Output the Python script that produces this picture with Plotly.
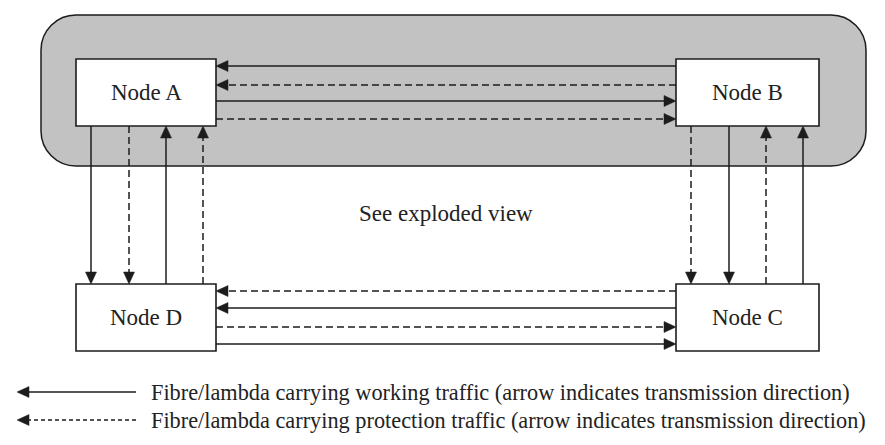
import plotly.graph_objects as go

# ---------------- data ----------------
node_names = ["Node A", "Node B", "Node C", "Node D"]
center_label = "See exploded view"
# links per channel: (source, destination, kind)
links_AB = [("Node B", "Node A", "working"), ("Node B", "Node A", "protection"),
            ("Node A", "Node B", "working"), ("Node A", "Node B", "protection")]
links_DC = [("Node C", "Node D", "protection"), ("Node C", "Node D", "working"),
            ("Node D", "Node C", "protection"), ("Node D", "Node C", "working")]
links_AD = [("Node A", "Node D", "working"), ("Node A", "Node D", "protection"),
            ("Node D", "Node A", "working"), ("Node D", "Node A", "protection")]
links_BC = [("Node B", "Node C", "protection"), ("Node B", "Node C", "working"),
            ("Node C", "Node B", "protection"), ("Node C", "Node B", "working")]
legend_kinds = ["working", "protection"]
legend_texts = ["Fibre/lambda carrying working traffic (arrow indicates transmission direction)",
                "Fibre/lambda carrying protection traffic (arrow indicates transmission direction)"]

# ---------------- geometry / style ----------------
W, H = 885, 445
boxes = {
    "Node A": (68, 51, 208, 118),
    "Node B": (668, 51, 811, 118),
    "Node C": (668, 276, 811, 343),
    "Node D": (68, 276, 208, 343),
}
h_offsets_AB = [7, 26, 42, 60]
h_offsets_DC = [7, 24, 43, 60]
v_offsets = [15, 53, 90, 127]
group_box = (33, 7, 858, 158, 35)
INK = "#1c1c1c"
LW = 1.5
DASH = {"working": "solid", "protection": "7px,4px"}
FONT = "Liberation Serif, Times New Roman, serif"
FS = 23
FS_LEG = 22.3
AL, AW = 12, 5.5  # arrowhead length, half width

shapes = []
annotations = []

# grey rounded group area
x0, y0, x1, y1, r = group_box
k = 0.5523 * r
path = (f"M {x0+r},{y0} L {x1-r},{y0} C {x1-r+k},{y0} {x1},{y0+r-k} {x1},{y0+r} "
        f"L {x1},{y1-r} C {x1},{y1-r+k} {x1-r+k},{y1} {x1-r},{y1} "
        f"L {x0+r},{y1} C {x0+r-k},{y1} {x0},{y1-r+k} {x0},{y1-r} "
        f"L {x0},{y0+r} C {x0},{y0+r-k} {x0+r-k},{y0} {x0+r},{y0} Z")
shapes.append(dict(type="path", path=path, xref="x", yref="y",
                   fillcolor="#c2c2c2", line=dict(color=INK, width=LW)))


def arrow(xs, ys, xe, ye, kind, dash=None):
    """line from (xs,ys) to (xe,ye) with filled head at end."""
    d = dash if dash else DASH[kind]
    dx, dy = xe - xs, ye - ys
    L = (dx * dx + dy * dy) ** 0.5
    ux, uy = dx / L, dy / L
    bx, by = xe - ux * AL, ye - uy * AL
    shapes.append(dict(type="line", x0=xs, y0=ys, x1=bx + ux * 2, y1=by + uy * 2,
                       xref="x", yref="y", line=dict(color=INK, width=LW, dash=d)))
    px, py = -uy, ux
    p = (f"M {xe},{ye} L {bx + px*AW},{by + py*AW} L {bx - px*AW},{by - py*AW} Z")
    shapes.append(dict(type="path", path=p, xref="x", yref="y",
                       fillcolor=INK, line=dict(color=INK, width=0.5)))


def horizontal(links, offsets, left, right):
    lb, rb = boxes[left], boxes[right]
    for (s, t, kind), off in zip(links, offsets):
        y = lb[1] + off
        if s == left:
            arrow(lb[2], y, rb[0], y, kind)
        else:
            arrow(rb[0], y, lb[2], y, kind)


def vertical(links, offsets, top, bottom):
    tb, bb = boxes[top], boxes[bottom]
    for (s, t, kind), off in zip(links, offsets):
        x = tb[0] + off
        if s == top:
            arrow(x, tb[3], x, bb[1], kind)
        else:
            arrow(x, bb[1], x, tb[3], kind)


horizontal(links_AB, h_offsets_AB, "Node A", "Node B")
horizontal(links_DC, h_offsets_DC, "Node D", "Node C")
vertical(links_AD, v_offsets, "Node A", "Node D")
vertical(links_BC, v_offsets, "Node B", "Node C")

# node boxes
for name in node_names:
    bx0, by0, bx1, by1 = boxes[name]
    shapes.append(dict(type="rect", x0=bx0, y0=by0, x1=bx1, y1=by1, xref="x", yref="y",
                       fillcolor="white", line=dict(color=INK, width=1.6)))
    annotations.append(dict(x=(bx0 + bx1) / 2, y=(by0 + by1) / 2, text=name, showarrow=False,
                            xref="x", yref="y", xanchor="center", yanchor="middle",
                            font=dict(family=FONT, size=FS, color="#222")))

annotations.append(dict(x=(boxes["Node A"][2] + boxes["Node B"][0]) / 2, y=205,
                        text=center_label, showarrow=False, xref="x", yref="y",
                        xanchor="center", yanchor="middle",
                        font=dict(family=FONT, size=FS, color="#222")))

# legend
legend_y = [384, 412]
for kind, txt, ly in zip(legend_kinds, legend_texts, legend_y):
    arrow(128, ly, 9, ly, kind, dash="solid" if kind == "working" else "4px,3px")
    annotations.append(dict(x=141, y=ly, text=txt, showarrow=False, xref="x", yref="y",
                            xanchor="left", yanchor="middle",
                            font=dict(family=FONT, size=FS_LEG, color="#222")))

fig = go.Figure()
fig.add_trace(go.Scatter(x=[0, W], y=[0, H], mode="markers", marker=dict(opacity=0),
                         hoverinfo="skip", showlegend=False))
fig.update_layout(
    width=W, height=H, margin=dict(l=0, r=0, t=0, b=0),
    paper_bgcolor="white", plot_bgcolor="white",
    xaxis=dict(range=[0, W], visible=False, fixedrange=True),
    yaxis=dict(range=[H, 0], visible=False, fixedrange=True),
    shapes=shapes, annotations=annotations, showlegend=False,
)
fig.write_html("out.html")
